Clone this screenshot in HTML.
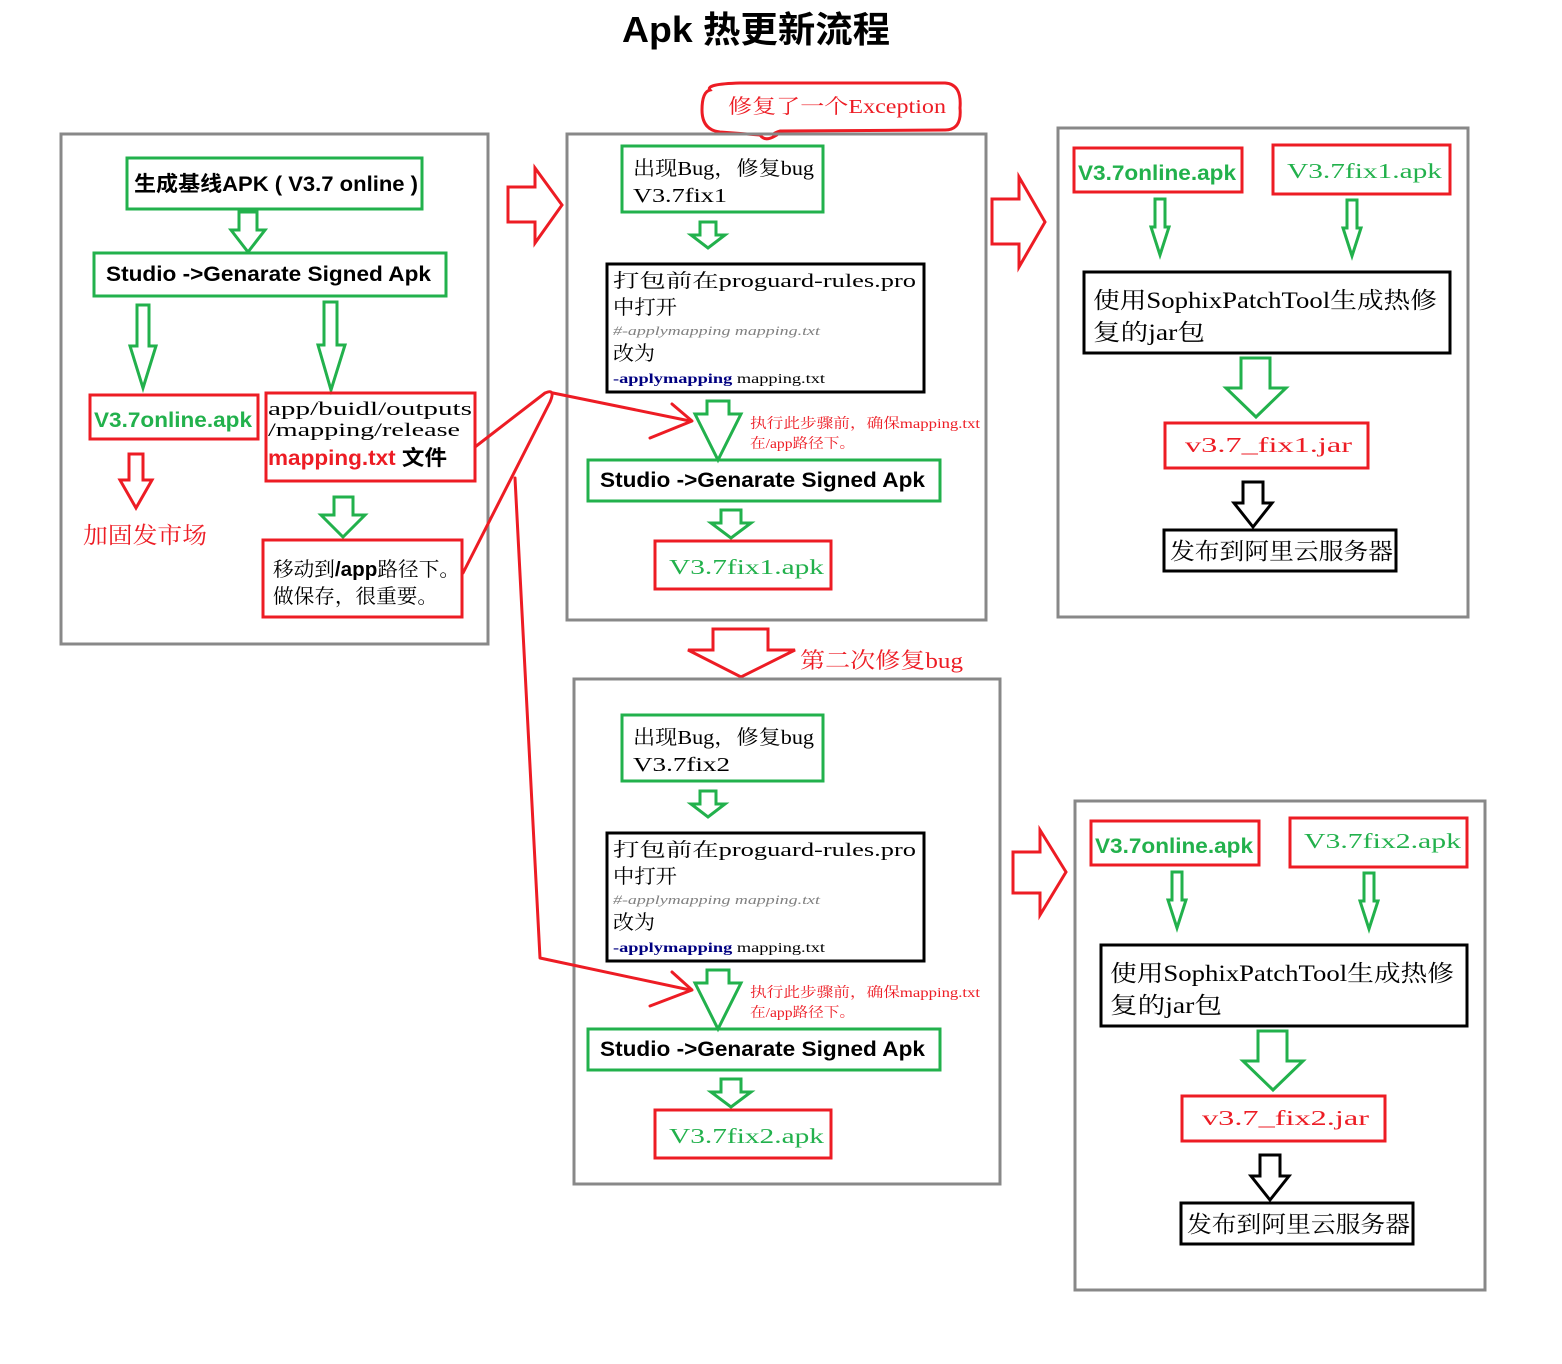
<!DOCTYPE html>
<html><head><meta charset="utf-8"><style>
html,body{margin:0;padding:0;background:#fff}
svg{display:block}
.sf{font-family:"Liberation Serif","Noto Serif CJK SC",serif}
.sb{font-family:"Liberation Sans","Noto Sans CJK SC",sans-serif;font-weight:bold}
</style></head><body>
<svg width="1562" height="1364" viewBox="0 0 1562 1364" xmlns="http://www.w3.org/2000/svg">
<defs>
<g id="mid">
  <rect x="622" y="146" width="201" height="66" fill="none" stroke="#22b14c" stroke-width="3"/>
  <polygon points="700,222 716,222 716,235 725,235 708,248 691,235 700,235" fill="none" stroke="#22b14c" stroke-width="3"/>
  <rect x="607" y="264" width="317" height="128" fill="none" stroke="#000" stroke-width="3"/>
  <text x="613" y="287" class="sf" font-size="19" textLength="303" lengthAdjust="spacingAndGlyphs">打包前在proguard-rules.pro</text>
  <text x="613" y="314" class="sf" font-size="20" textLength="64" lengthAdjust="spacingAndGlyphs">中打开</text>
  <text x="613" y="335" class="sf" font-size="13" font-style="italic" fill="#808080" textLength="207" lengthAdjust="spacingAndGlyphs">#-applymapping mapping.txt</text>
  <text x="613" y="360" class="sf" font-size="20" textLength="42" lengthAdjust="spacingAndGlyphs">改为</text>
  <text x="613" y="383" class="sf" font-size="14" textLength="212" lengthAdjust="spacingAndGlyphs"><tspan fill="#000080" font-weight="bold">-applymapping</tspan> mapping.txt</text>
  <polygon points="707,401 729,401 729,414 741,414 718,460 695,414 707,414" fill="none" stroke="#22b14c" stroke-width="3"/>
  <text x="750" y="428" class="sf" font-size="14" fill="#ed1c24" textLength="230" lengthAdjust="spacingAndGlyphs">执行此步骤前，确保mapping.txt</text>
  <text x="750" y="448" class="sf" font-size="14" fill="#ed1c24" textLength="105" lengthAdjust="spacingAndGlyphs">在/app路径下。</text>
  <rect x="588" y="460" width="352" height="41" fill="none" stroke="#22b14c" stroke-width="3"/>
  <text x="600" y="487" class="sb" font-size="21" textLength="325" lengthAdjust="spacingAndGlyphs">Studio -&gt;Genarate Signed Apk</text>
  <polygon points="721,510 741,510 741,523 751,523 731,538 711,523 721,523" fill="none" stroke="#22b14c" stroke-width="3"/>
  <rect x="655" y="541" width="176" height="48" fill="none" stroke="#ed1c24" stroke-width="3"/>
</g>
<g id="rt">
  <rect x="1074" y="148" width="168" height="44" fill="none" stroke="#ed1c24" stroke-width="3"/>
  <text x="1078" y="180" class="sb" font-size="21" fill="#22b14c" textLength="158" lengthAdjust="spacingAndGlyphs">V3.7online.apk</text>
  <rect x="1273" y="145" width="177" height="49" fill="none" stroke="#ed1c24" stroke-width="3"/>
  <polygon points="1155,199 1165,199 1165,227 1169,227 1160,255 1151,227 1155,227" fill="none" stroke="#22b14c" stroke-width="3"/>
  <polygon points="1347,200 1357,200 1357,228 1361,228 1352,256 1343,228 1347,228" fill="none" stroke="#22b14c" stroke-width="3"/>
  <rect x="1084" y="272" width="366" height="81" fill="none" stroke="#000" stroke-width="3"/>
  <text x="1093" y="308" class="sf" font-size="23" textLength="344" lengthAdjust="spacingAndGlyphs">使用SophixPatchTool生成热修</text>
  <text x="1093" y="340" class="sf" font-size="23" textLength="112" lengthAdjust="spacingAndGlyphs">复的jar包</text>
  <polygon points="1241,358 1270,358 1270,388 1286,388 1256,417 1226,388 1241,388" fill="none" stroke="#22b14c" stroke-width="3"/>
  <rect x="1165" y="423" width="203" height="45" fill="none" stroke="#ed1c24" stroke-width="3"/>
  <polygon points="1243,482 1263,482 1263,503 1272,503 1253,527 1234,503 1243,503" fill="none" stroke="#000" stroke-width="3"/>
  <rect x="1164" y="530" width="232" height="41" fill="none" stroke="#000" stroke-width="3"/>
  <text x="1170" y="559" class="sf" font-size="23" textLength="223" lengthAdjust="spacingAndGlyphs">发布到阿里云服务器</text>
</g>
</defs>

<text x="622" y="42" class="sb" font-size="36" textLength="268" lengthAdjust="spacingAndGlyphs">Apk 热更新流程</text>

<!-- left panel -->
<rect x="61" y="134" width="427" height="510" fill="none" stroke="#888" stroke-width="3"/>
<rect x="127" y="158" width="295" height="51" fill="none" stroke="#22b14c" stroke-width="3"/>
<text x="134" y="191" class="sb" font-size="21" textLength="284" lengthAdjust="spacingAndGlyphs">生成基线APK ( V3.7 online )</text>
<polygon points="239,212 257,212 257,230 265,230 248,252 231,230 239,230" fill="none" stroke="#22b14c" stroke-width="3"/>
<rect x="94" y="253" width="352" height="43" fill="none" stroke="#22b14c" stroke-width="3"/>
<text x="106" y="281" class="sb" font-size="21" textLength="325" lengthAdjust="spacingAndGlyphs">Studio -&gt;Genarate Signed Apk</text>
<polygon points="137,305 149,305 149,346 156,346 143,388 130,346 137,346" fill="none" stroke="#22b14c" stroke-width="3"/>
<polygon points="324,302 337,302 337,345 345,345 331,390 318,345 324,345" fill="none" stroke="#22b14c" stroke-width="3"/>
<rect x="90" y="395" width="168" height="44" fill="none" stroke="#ed1c24" stroke-width="3"/>
<text x="94" y="427" class="sb" font-size="21" fill="#22b14c" textLength="158" lengthAdjust="spacingAndGlyphs">V3.7online.apk</text>
<rect x="266" y="393" width="209" height="88" fill="none" stroke="#ed1c24" stroke-width="3"/>
<text x="268" y="415" class="sf" font-size="19" textLength="204" lengthAdjust="spacingAndGlyphs">app/buidl/outputs</text>
<text x="268" y="436" class="sf" font-size="19" textLength="192" lengthAdjust="spacingAndGlyphs">/mapping/release</text>
<text x="268" y="465" class="sb" font-size="21" textLength="179" lengthAdjust="spacingAndGlyphs"><tspan fill="#ed1c24">mapping.txt</tspan> 文件</text>
<polygon points="129,454 143,454 143,480 152,480 136,508 120,480 129,480" fill="none" stroke="#ed1c24" stroke-width="3"/>
<text x="83" y="543" class="sf" font-size="23" fill="#ed1c24" textLength="124" lengthAdjust="spacingAndGlyphs">加固发市场</text>
<polygon points="334,497 353,497 353,515 365,515 343,537 321,515 334,515" fill="none" stroke="#22b14c" stroke-width="3"/>
<rect x="263" y="540" width="199" height="77" fill="none" stroke="#ed1c24" stroke-width="3"/>
<text x="273" y="576" class="sf" font-size="20" textLength="187" lengthAdjust="spacingAndGlyphs">移动到<tspan class="sb">/app</tspan>路径下。</text>
<text x="273" y="603" class="sf" font-size="20" textLength="165" lengthAdjust="spacingAndGlyphs">做保存，很重要。</text>

<!-- red right arrows -->
<polygon points="508,187 535,187 535,168 562,205 535,243 535,222 508,222" fill="none" stroke="#ed1c24" stroke-width="3"/>
<polygon points="992,199 1019,199 1019,177 1045,222 1019,267 1019,244 992,244" fill="none" stroke="#ed1c24" stroke-width="3"/>
<polygon points="1013,852 1040,852 1040,830 1066,872 1040,915 1040,893 1013,893" fill="none" stroke="#ed1c24" stroke-width="3"/>

<!-- middle top -->
<path d="M710,90 Q705,84 740,83 L945,83 Q962,84 960,108 Q962,130 945,130 L780,131 Q770,134 775,136 Q765,142 760,135 L720,132 Q702,130 702,110 Q702,92 710,90 Z" fill="#fff" stroke="#ed1c24" stroke-width="3"/>
<text x="728" y="113" class="sf" font-size="20" fill="#ed1c24" textLength="218" lengthAdjust="spacingAndGlyphs">修复了一个Exception</text>
<rect x="567" y="134" width="419" height="486" fill="none" stroke="#888" stroke-width="3"/>
<use href="#mid"/>
<text x="633" y="175" class="sf" font-size="20" textLength="181" lengthAdjust="spacingAndGlyphs">出现Bug，修复bug</text>
<text x="633" y="202" class="sf" font-size="20" textLength="94" lengthAdjust="spacingAndGlyphs">V3.7fix1</text>
<text x="669" y="574" class="sf" font-size="21" fill="#22b14c" textLength="155" lengthAdjust="spacingAndGlyphs">V3.7fix1.apk</text>

<!-- second fix arrow -->
<polygon points="713,629 768,629 768,650 795,650 741,677 688,650 713,650" fill="none" stroke="#ed1c24" stroke-width="3"/>
<text x="800" y="668" class="sf" font-size="22" fill="#ed1c24" textLength="163" lengthAdjust="spacingAndGlyphs">第二次修复bug</text>

<!-- middle bottom -->
<rect x="574" y="679" width="426" height="505" fill="none" stroke="#888" stroke-width="3"/>
<use href="#mid" transform="translate(0,569)"/>
<text x="633" y="744" class="sf" font-size="20" textLength="181" lengthAdjust="spacingAndGlyphs">出现Bug，修复bug</text>
<text x="633" y="771" class="sf" font-size="20" textLength="97" lengthAdjust="spacingAndGlyphs">V3.7fix2</text>
<text x="669" y="1143" class="sf" font-size="21" fill="#22b14c" textLength="155" lengthAdjust="spacingAndGlyphs">V3.7fix2.apk</text>

<!-- right top -->
<rect x="1058" y="128" width="410" height="489" fill="none" stroke="#888" stroke-width="3"/>
<use href="#rt"/>
<text x="1287" y="178" class="sf" font-size="21" fill="#22b14c" textLength="155" lengthAdjust="spacingAndGlyphs">V3.7fix1.apk</text>
<text x="1185" y="452" class="sf" font-size="21" fill="#ed1c24" textLength="167" lengthAdjust="spacingAndGlyphs">v3.7_fix1.jar</text>

<!-- right bottom -->
<rect x="1075" y="801" width="410" height="489" fill="none" stroke="#888" stroke-width="3"/>
<use href="#rt" transform="translate(17,673)"/>
<text x="1304" y="848" class="sf" font-size="21" fill="#22b14c" textLength="157" lengthAdjust="spacingAndGlyphs">V3.7fix2.apk</text>
<text x="1202" y="1125" class="sf" font-size="21" fill="#ed1c24" textLength="167" lengthAdjust="spacingAndGlyphs">v3.7_fix2.jar</text>

<!-- red hand-drawn connectors -->
<g fill="none" stroke="#ed1c24" stroke-width="3" stroke-linecap="round" stroke-linejoin="round">
  <path d="M475,447 L545,393 Q556,388 550,402 L463,573"/>
  <path d="M553,393 L690,421"/>
  <path d="M650,438 L692,421 L672,404"/>
  <path d="M515,478 L540,958 L690,990"/>
  <path d="M650,1006 L692,990 L672,972"/>
</g>
</svg>
</body></html>
